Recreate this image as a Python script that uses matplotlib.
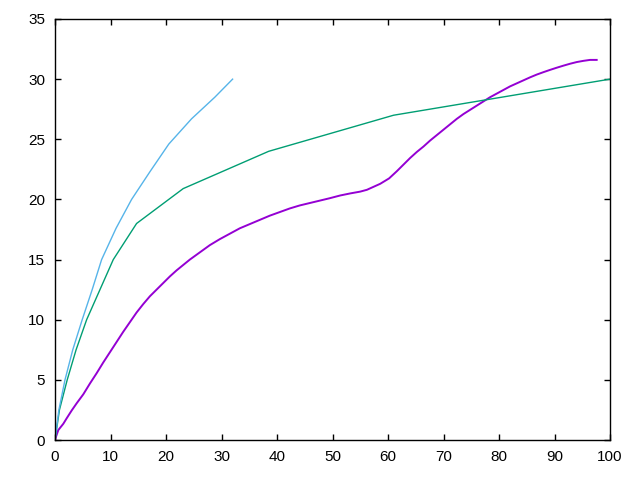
import matplotlib
matplotlib.use("Agg")
import matplotlib.pyplot as plt

# Blue series (#56b4e9)
blue_x = [0, 0.7, 1.8, 3.2, 4.9, 6.7, 8.4, 11.0, 13.8, 17.1, 20.5, 24.6, 28.8, 32.0]
blue_y = [0, 2.5, 5.0, 7.5, 10.0, 12.5, 15.0, 17.6, 20.0, 22.3, 24.6, 26.7, 28.5, 30.0]

# Green series (#009e73)
green_x = [0, 0.8, 2.2, 3.8, 5.7, 8.1, 10.5, 14.7, 23.1, 38.5, 61.0, 100.0]
green_y = [0, 2.5, 5.0, 7.5, 10.0, 12.5, 15.0, 18.0, 20.9, 24.0, 27.0, 30.0]

# Purple series (#9400d3)
purple_x = [0, 0.18, 0.6, 1.5, 2.1, 3.0, 3.9, 5.1, 6.3, 7.5, 8.7, 9.9, 11.1, 12.3, 13.5,
            14.7, 15.9, 17.1, 18.3, 19.5, 20.7, 21.9, 23.1, 24.3, 26.1, 27.9, 29.7,
            31.5, 33.3, 35.1, 36.9, 38.7, 40.5, 42.3, 44.1, 45.9, 47.7, 49.5, 51.4,
            53.2, 55.0, 56.2, 57.4, 58.6, 60.2, 61.6, 62.8, 64.0, 65.2, 66.4, 67.6,
            68.8, 70.0, 71.2, 72.4, 73.6, 74.8, 76.0, 77.2, 78.4, 79.6, 80.8, 82.0,
            83.2, 84.4, 85.6, 86.8, 88.0, 89.2, 90.4, 91.6, 92.8, 94.0, 95.2, 96.4, 97.6]
purple_y = [0, 0.27, 0.83, 1.35, 1.8, 2.45, 3.05, 3.8, 4.7, 5.55, 6.45, 7.3, 8.15, 9.0, 9.8,
            10.6, 11.3, 11.95, 12.5, 13.05, 13.6, 14.1, 14.55, 15.0, 15.6, 16.2, 16.7,
            17.15, 17.6, 17.95, 18.3, 18.65, 18.95, 19.25, 19.5, 19.7, 19.9, 20.1, 20.33,
            20.5, 20.65, 20.8, 21.05, 21.3, 21.75, 22.35, 22.9, 23.45, 23.95, 24.4, 24.9,
            25.35, 25.8, 26.25, 26.7, 27.1, 27.45, 27.8, 28.15, 28.5, 28.8, 29.1, 29.4,
            29.65, 29.9, 30.15, 30.38, 30.58, 30.77, 30.95, 31.12, 31.28, 31.42, 31.52, 31.6, 31.6]

x_ticks = [0, 10, 20, 30, 40, 50, 60, 70, 80, 90, 100]
y_ticks = [0, 5, 10, 15, 20, 25, 30, 35]

plt.rcParams['font.family'] = ['Liberation Sans', 'DejaVu Sans']

fig = plt.figure(figsize=(6.4, 4.8), dpi=100)
ax = fig.add_axes([55/640, 40/480, 555/640, 421/480])

ax.plot(purple_x, purple_y, color='#9400d3', lw=1.4)
ax.plot(green_x, green_y, color='#009e73', lw=1.0)
ax.plot(blue_x, blue_y, color='#56b4e9', lw=1.0)

ax.set_xlim(0, 100)
ax.set_ylim(0, 35)
ax.set_xticks(x_ticks)
ax.set_yticks(y_ticks)
ax.tick_params(direction='in', length=4.5, width=1, top=True, right=True,
               labelsize=11, pad=7)
for s in ax.spines.values():
    s.set_linewidth(1)

fig.savefig('out.png', dpi=100)
